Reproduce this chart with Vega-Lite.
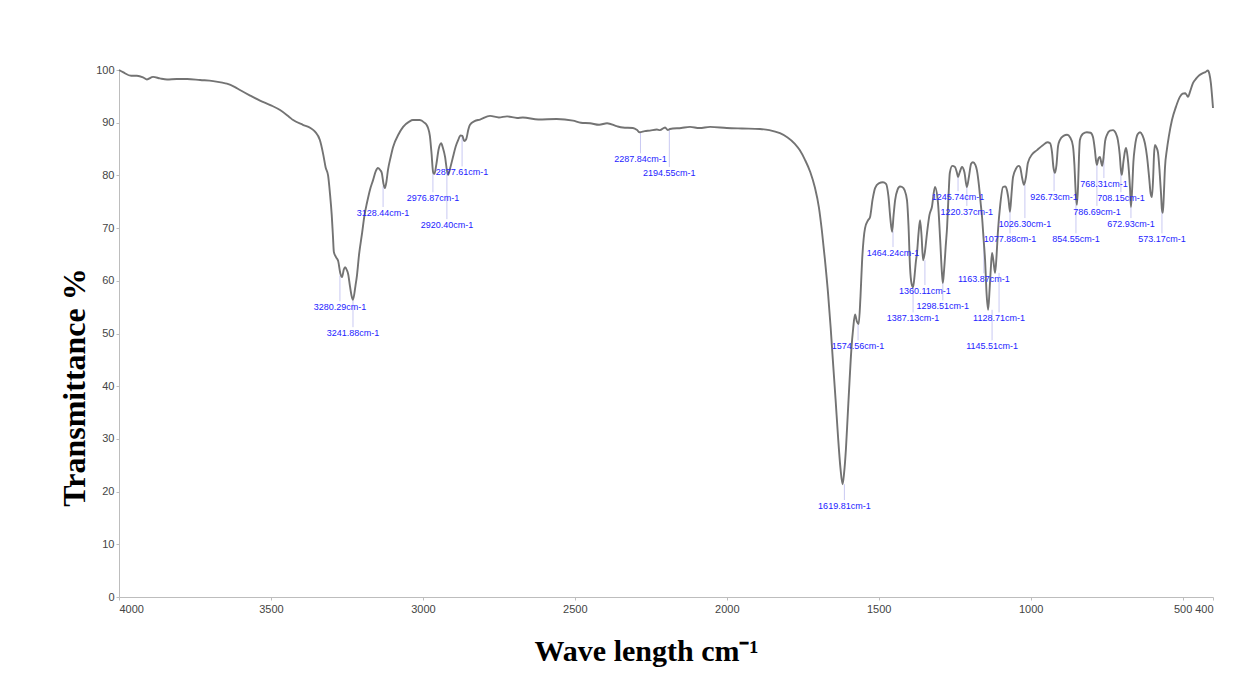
{
  "$schema": "https://vega.github.io/schema/vega-lite/v6.json",
  "width": 1094,
  "height": 527,
  "autosize": {"type": "none"},
  "padding": {"left": 119, "top": 70, "right": 31, "bottom": 80},
  "background": "white",
  "config": {
    "view": {"stroke": null},
    "axis": {
      "grid": false,
      "domainColor": "#bdbdbd",
      "tickColor": "#bdbdbd",
      "tickSize": 3,
      "labelColor": "#444444",
      "labelFont": "Liberation Sans",
      "labelFontSize": 11,
      "titleFont": "Liberation Serif",
      "titleFontWeight": "bold",
      "titleColor": "#000000",
      "titleFontSize": 30
    }
  },
  "datasets": {
    "spectrum": [
      {"wn": 4000, "t": 100}, {"wn": 3987, "t": 99.6}, {"wn": 3960, "t": 98.9}, {"wn": 3941, "t": 98.9},
      {"wn": 3921, "t": 98.6}, {"wn": 3908, "t": 98.2}, {"wn": 3888, "t": 98.7}, {"wn": 3865, "t": 98.4},
      {"wn": 3842, "t": 98.2}, {"wn": 3810, "t": 98.3}, {"wn": 3776, "t": 98.3}, {"wn": 3733, "t": 98.1},
      {"wn": 3690, "t": 97.9}, {"wn": 3660, "t": 97.6}, {"wn": 3645, "t": 97.4}, {"wn": 3620, "t": 96.8},
      {"wn": 3602, "t": 96.2}, {"wn": 3570, "t": 95.2}, {"wn": 3536, "t": 94.2}, {"wn": 3500, "t": 93.3},
      {"wn": 3470, "t": 92.4}, {"wn": 3440, "t": 91.1}, {"wn": 3427, "t": 90.5}, {"wn": 3395, "t": 89.6},
      {"wn": 3370, "t": 89.0}, {"wn": 3355, "t": 88.3}, {"wn": 3339, "t": 86.7}, {"wn": 3328, "t": 84.0},
      {"wn": 3320, "t": 81.5}, {"wn": 3312, "t": 80.0}, {"wn": 3306, "t": 76.7}, {"wn": 3300, "t": 72.5},
      {"wn": 3296, "t": 68.5}, {"wn": 3293, "t": 65.5}, {"wn": 3286, "t": 64.5}, {"wn": 3279, "t": 63.8},
      {"wn": 3272, "t": 61.5}, {"wn": 3266, "t": 60.7}, {"wn": 3260, "t": 62.2}, {"wn": 3256, "t": 62.6},
      {"wn": 3250, "t": 62.0}, {"wn": 3246, "t": 61.3}, {"wn": 3240, "t": 59.0}, {"wn": 3234, "t": 57.0},
      {"wn": 3230, "t": 56.4}, {"wn": 3222, "t": 59.0}, {"wn": 3217, "t": 61.0}, {"wn": 3210, "t": 65.0},
      {"wn": 3200, "t": 69.1}, {"wn": 3192, "t": 72.5}, {"wn": 3184, "t": 74.8}, {"wn": 3174, "t": 77.3},
      {"wn": 3164, "t": 79.1}, {"wn": 3155, "t": 80.8}, {"wn": 3148, "t": 81.4}, {"wn": 3140, "t": 81.0},
      {"wn": 3135, "t": 80.4}, {"wn": 3130, "t": 78.5}, {"wn": 3125, "t": 77.6}, {"wn": 3120, "t": 78.8},
      {"wn": 3115, "t": 81.0}, {"wn": 3106, "t": 83.5}, {"wn": 3098, "t": 85.4}, {"wn": 3080, "t": 87.8},
      {"wn": 3065, "t": 89.2}, {"wn": 3045, "t": 90.2}, {"wn": 3033, "t": 90.5}, {"wn": 3010, "t": 90.5},
      {"wn": 2995, "t": 90.0}, {"wn": 2988, "t": 89.6}, {"wn": 2983, "t": 89.0}, {"wn": 2977, "t": 87.5},
      {"wn": 2972, "t": 84.5}, {"wn": 2966, "t": 80.5}, {"wn": 2962, "t": 80.3}, {"wn": 2956, "t": 82.0},
      {"wn": 2948, "t": 85.0}, {"wn": 2940, "t": 86.1}, {"wn": 2934, "t": 85.2}, {"wn": 2927, "t": 83.5},
      {"wn": 2921, "t": 81.0}, {"wn": 2917, "t": 80.1}, {"wn": 2911, "t": 81.2}, {"wn": 2901, "t": 83.5},
      {"wn": 2892, "t": 85.5}, {"wn": 2884, "t": 86.7}, {"wn": 2876, "t": 87.6}, {"wn": 2870, "t": 87.5},
      {"wn": 2864, "t": 86.5}, {"wn": 2858, "t": 86.8}, {"wn": 2850, "t": 88.8}, {"wn": 2845, "t": 89.6},
      {"wn": 2830, "t": 90.3}, {"wn": 2812, "t": 90.6}, {"wn": 2779, "t": 91.3}, {"wn": 2750, "t": 91.0},
      {"wn": 2723, "t": 91.2}, {"wn": 2690, "t": 90.9}, {"wn": 2671, "t": 91.0}, {"wn": 2620, "t": 90.6},
      {"wn": 2560, "t": 90.7}, {"wn": 2506, "t": 90.4}, {"wn": 2480, "t": 90.0}, {"wn": 2450, "t": 89.9},
      {"wn": 2420, "t": 89.6}, {"wn": 2394, "t": 89.9}, {"wn": 2360, "t": 89.3}, {"wn": 2342, "t": 89.1},
      {"wn": 2309, "t": 89.0}, {"wn": 2295, "t": 88.6}, {"wn": 2287, "t": 88.2}, {"wn": 2270, "t": 88.4},
      {"wn": 2253, "t": 88.5}, {"wn": 2230, "t": 88.7}, {"wn": 2220, "t": 88.6}, {"wn": 2203, "t": 89.1},
      {"wn": 2194, "t": 88.6}, {"wn": 2187, "t": 88.8}, {"wn": 2150, "t": 89.0}, {"wn": 2121, "t": 89.2},
      {"wn": 2090, "t": 89.0}, {"wn": 2055, "t": 89.2}, {"wn": 2000, "t": 89.0}, {"wn": 1950, "t": 88.9},
      {"wn": 1891, "t": 88.8}, {"wn": 1860, "t": 88.6}, {"wn": 1825, "t": 88.0}, {"wn": 1800, "t": 87.2},
      {"wn": 1776, "t": 86.0}, {"wn": 1760, "t": 84.8}, {"wn": 1743, "t": 83.0}, {"wn": 1725, "t": 80.6},
      {"wn": 1710, "t": 77.7}, {"wn": 1697, "t": 74.0}, {"wn": 1687, "t": 69.5}, {"wn": 1677, "t": 64.0},
      {"wn": 1667, "t": 57.8}, {"wn": 1658, "t": 51.0}, {"wn": 1651, "t": 45.0}, {"wn": 1642, "t": 37.5},
      {"wn": 1634, "t": 30.5}, {"wn": 1626, "t": 24.5}, {"wn": 1619, "t": 21.4}, {"wn": 1614, "t": 23.5},
      {"wn": 1608, "t": 28.0}, {"wn": 1602, "t": 34.5}, {"wn": 1596, "t": 41.0}, {"wn": 1590, "t": 47.0},
      {"wn": 1584, "t": 51.0}, {"wn": 1578, "t": 53.6}, {"wn": 1572, "t": 52.3}, {"wn": 1566, "t": 51.8},
      {"wn": 1560, "t": 57.0}, {"wn": 1555, "t": 63.5}, {"wn": 1545, "t": 70.0}, {"wn": 1535, "t": 71.5},
      {"wn": 1529, "t": 72.0}, {"wn": 1520, "t": 75.5}, {"wn": 1512, "t": 77.6}, {"wn": 1500, "t": 78.5},
      {"wn": 1486, "t": 78.7}, {"wn": 1476, "t": 78.4}, {"wn": 1468, "t": 76.0}, {"wn": 1462, "t": 72.0},
      {"wn": 1456, "t": 69.3}, {"wn": 1451, "t": 72.5}, {"wn": 1446, "t": 75.3}, {"wn": 1438, "t": 77.3},
      {"wn": 1430, "t": 77.9}, {"wn": 1423, "t": 77.8}, {"wn": 1415, "t": 77.2}, {"wn": 1407, "t": 75.3},
      {"wn": 1402, "t": 70.5}, {"wn": 1397, "t": 62.6}, {"wn": 1392, "t": 59.5}, {"wn": 1387, "t": 58.8},
      {"wn": 1382, "t": 61.0}, {"wn": 1378, "t": 63.5}, {"wn": 1374, "t": 65.3}, {"wn": 1369, "t": 69.0},
      {"wn": 1364, "t": 71.5}, {"wn": 1359, "t": 68.5}, {"wn": 1354, "t": 63.9}, {"wn": 1348, "t": 65.5},
      {"wn": 1341, "t": 69.1}, {"wn": 1333, "t": 72.5}, {"wn": 1325, "t": 74.0}, {"wn": 1315, "t": 77.8},
      {"wn": 1305, "t": 74.8}, {"wn": 1298, "t": 68.0}, {"wn": 1292, "t": 61.5}, {"wn": 1289, "t": 59.6},
      {"wn": 1285, "t": 62.0}, {"wn": 1279, "t": 67.0}, {"wn": 1275, "t": 70.2}, {"wn": 1270, "t": 76.5},
      {"wn": 1266, "t": 80.5}, {"wn": 1258, "t": 81.8}, {"wn": 1249, "t": 81.6}, {"wn": 1243, "t": 80.6},
      {"wn": 1239, "t": 79.7}, {"wn": 1234, "t": 80.5}, {"wn": 1226, "t": 81.6}, {"wn": 1218, "t": 80.6},
      {"wn": 1210, "t": 77.8}, {"wn": 1203, "t": 79.8}, {"wn": 1196, "t": 82.2}, {"wn": 1190, "t": 82.5},
      {"wn": 1182, "t": 82.0}, {"wn": 1177, "t": 81.0}, {"wn": 1170, "t": 78.0}, {"wn": 1165, "t": 75.0},
      {"wn": 1160, "t": 72.1}, {"wn": 1155, "t": 68.0}, {"wn": 1150, "t": 63.9}, {"wn": 1145, "t": 57.5},
      {"wn": 1140, "t": 54.5}, {"wn": 1135, "t": 58.5}, {"wn": 1131, "t": 62.5}, {"wn": 1127, "t": 65.3},
      {"wn": 1122, "t": 63.5}, {"wn": 1117, "t": 61.5}, {"wn": 1112, "t": 65.0}, {"wn": 1108, "t": 69.1},
      {"wn": 1100, "t": 74.5}, {"wn": 1091, "t": 77.8}, {"wn": 1084, "t": 77.9}, {"wn": 1078, "t": 77.2},
      {"wn": 1073, "t": 75.5}, {"wn": 1068, "t": 73.1}, {"wn": 1063, "t": 76.5}, {"wn": 1058, "t": 79.7},
      {"wn": 1048, "t": 81.3}, {"wn": 1040, "t": 81.8}, {"wn": 1035, "t": 81.6}, {"wn": 1028, "t": 79.5},
      {"wn": 1022, "t": 78.2}, {"wn": 1016, "t": 79.5}, {"wn": 1009, "t": 82.4}, {"wn": 995, "t": 84.0},
      {"wn": 979, "t": 84.8}, {"wn": 960, "t": 85.7}, {"wn": 945, "t": 86.3}, {"wn": 936, "t": 86.1},
      {"wn": 930, "t": 84.5}, {"wn": 925, "t": 81.5}, {"wn": 920, "t": 80.5}, {"wn": 915, "t": 82.0},
      {"wn": 910, "t": 85.5}, {"wn": 904, "t": 86.7}, {"wn": 892, "t": 87.5}, {"wn": 880, "t": 87.7},
      {"wn": 870, "t": 87.2}, {"wn": 861, "t": 85.6}, {"wn": 856, "t": 82.0}, {"wn": 852, "t": 77.0},
      {"wn": 848, "t": 74.4}, {"wn": 844, "t": 78.0}, {"wn": 841, "t": 83.5}, {"wn": 838, "t": 86.7},
      {"wn": 828, "t": 87.9}, {"wn": 815, "t": 88.2}, {"wn": 803, "t": 88.1}, {"wn": 795, "t": 87.3},
      {"wn": 789, "t": 85.0}, {"wn": 785, "t": 82.8}, {"wn": 782, "t": 82.0}, {"wn": 777, "t": 83.2},
      {"wn": 772, "t": 83.5}, {"wn": 768, "t": 82.5}, {"wn": 765, "t": 81.8}, {"wn": 760, "t": 83.5},
      {"wn": 755, "t": 86.5}, {"wn": 749, "t": 87.7}, {"wn": 739, "t": 88.5}, {"wn": 729, "t": 88.6},
      {"wn": 720, "t": 88.0}, {"wn": 713, "t": 86.7}, {"wn": 707, "t": 84.0}, {"wn": 703, "t": 81.0},
      {"wn": 700, "t": 80.1}, {"wn": 695, "t": 82.5}, {"wn": 690, "t": 84.5}, {"wn": 686, "t": 85.2},
      {"wn": 681, "t": 83.5}, {"wn": 677, "t": 81.0}, {"wn": 673, "t": 77.5}, {"wn": 670, "t": 74.0},
      {"wn": 666, "t": 77.5}, {"wn": 662, "t": 82.5}, {"wn": 657, "t": 85.4}, {"wn": 648, "t": 87.8},
      {"wn": 640, "t": 88.2}, {"wn": 632, "t": 87.6}, {"wn": 624, "t": 86.1}, {"wn": 617, "t": 83.5},
      {"wn": 610, "t": 79.5}, {"wn": 605, "t": 76.5}, {"wn": 601, "t": 75.9}, {"wn": 597, "t": 79.5},
      {"wn": 594, "t": 84.0}, {"wn": 591, "t": 85.8}, {"wn": 586, "t": 85.3}, {"wn": 581, "t": 84.3},
      {"wn": 576, "t": 81.0}, {"wn": 571, "t": 76.5}, {"wn": 568, "t": 73.5}, {"wn": 565, "t": 72.9},
      {"wn": 562, "t": 76.0}, {"wn": 558, "t": 81.5}, {"wn": 552, "t": 84.8}, {"wn": 545, "t": 87.5},
      {"wn": 535, "t": 90.5}, {"wn": 522, "t": 93.0}, {"wn": 509, "t": 94.9}, {"wn": 500, "t": 95.5},
      {"wn": 492, "t": 95.6}, {"wn": 487, "t": 95.3}, {"wn": 482, "t": 94.9}, {"wn": 476, "t": 95.8},
      {"wn": 466, "t": 97.5}, {"wn": 455, "t": 98.4}, {"wn": 445, "t": 99.0}, {"wn": 433, "t": 99.4},
      {"wn": 425, "t": 99.6}, {"wn": 417, "t": 99.9}, {"wn": 412, "t": 99.3}, {"wn": 407, "t": 97.5},
      {"wn": 403, "t": 95.0}, {"wn": 400, "t": 92.8}
    ],
    "peaks": [
      {"label": "3280.29cm-1", "wn": 3273, "t": 55.0, "top": 61.0, "bottom": 56.1},
      {"label": "3241.88cm-1", "wn": 3230, "t": 50.1, "top": 56.4, "bottom": 51.2},
      {"label": "3128.44cm-1", "wn": 3131, "t": 72.9, "top": 78.0, "bottom": 74.0},
      {"label": "2976.87cm-1", "wn": 2967, "t": 75.7, "top": 80.4, "bottom": 76.8},
      {"label": "2877.61cm-1", "wn": 2871, "t": 80.6, "top": 87.5, "bottom": 81.7},
      {"label": "2920.40cm-1", "wn": 2921, "t": 70.6, "top": 81.0, "bottom": 71.7},
      {"label": "2287.84cm-1", "wn": 2284, "t": 83.1, "top": 88.2, "bottom": 84.2},
      {"label": "2194.55cm-1", "wn": 2189, "t": 80.5, "top": 88.8, "bottom": 81.6},
      {"label": "1619.81cm-1", "wn": 1613, "t": 17.3, "top": 21.4, "bottom": 18.4},
      {"label": "1574.56cm-1", "wn": 1568, "t": 47.6, "top": 52.0, "bottom": 48.7},
      {"label": "1464.24cm-1", "wn": 1453, "t": 65.3, "top": 69.5, "bottom": 66.4},
      {"label": "1360.11cm-1", "wn": 1348, "t": 58.1, "top": 63.9, "bottom": 59.2},
      {"label": "1298.51cm-1", "wn": 1289, "t": 55.2, "top": 59.6, "bottom": 56.3},
      {"label": "1387.13cm-1", "wn": 1387, "t": 52.9, "top": 58.8, "bottom": 54.0},
      {"label": "1245.74cm-1", "wn": 1239, "t": 75.9, "top": 79.7, "bottom": 77.0},
      {"label": "1220.37cm-1", "wn": 1210, "t": 73.1, "top": 77.8, "bottom": 74.2},
      {"label": "1163.87cm-1", "wn": 1154, "t": 60.3, "top": 67.0, "bottom": 61.4},
      {"label": "1128.71cm-1", "wn": 1104, "t": 52.9, "top": 61.5, "bottom": 54.0},
      {"label": "1145.51cm-1", "wn": 1127, "t": 47.6, "top": 54.5, "bottom": 48.7},
      {"label": "1077.88cm-1", "wn": 1068, "t": 67.9, "top": 73.1, "bottom": 69.0},
      {"label": "1026.30cm-1", "wn": 1019, "t": 70.8, "top": 78.2, "bottom": 71.9},
      {"label": "926.73cm-1", "wn": 923, "t": 75.9, "top": 80.8, "bottom": 77.0},
      {"label": "854.55cm-1", "wn": 851, "t": 67.9, "top": 75.5, "bottom": 69.0},
      {"label": "768.31cm-1", "wn": 759, "t": 78.4, "top": 83.5, "bottom": 79.5},
      {"label": "786.69cm-1", "wn": 782, "t": 73.1, "top": 82.0, "bottom": 74.2},
      {"label": "708.15cm-1", "wn": 703, "t": 75.7, "top": 81.0, "bottom": 76.8},
      {"label": "672.93cm-1", "wn": 670, "t": 70.8, "top": 74.0, "bottom": 71.9},
      {"label": "573.17cm-1", "wn": 568, "t": 67.9, "top": 73.5, "bottom": 69.0}
    ]
  },
  "layer": [
    {
      "data": {"name": "peaks"},
      "mark": {"type": "rule", "color": "#c9c9f2", "strokeWidth": 1},
      "encoding": {
        "x": {"field": "wn", "type": "quantitative"},
        "y": {"field": "top", "type": "quantitative"},
        "y2": {"field": "bottom"}
      }
    },
    {
      "data": {"name": "spectrum"},
      "mark": {"type": "line", "color": "#737373", "strokeWidth": 1.9, "interpolate": "monotone"},
      "encoding": {
        "x": {
          "field": "wn",
          "type": "quantitative",
          "scale": {"domain": [4000, 400], "nice": false, "zero": false},
          "axis": {
            "values": [4000, 3500, 3000, 2500, 2000, 1500, 1000, 500, 400],
            "format": "d",
            "labelPadding": 3,
            "title": "Wave length cm⁻¹",
            "titleX": 527,
            "titleY": 63,
            "titleAlign": "center",
            "titleBaseline": "alphabetic",
            "titleAnchor": null
          }
        },
        "y": {
          "field": "t",
          "type": "quantitative",
          "scale": {"domain": [0, 100], "nice": false},
          "axis": {
            "values": [0, 10, 20, 30, 40, 50, 60, 70, 80, 90, 100],
            "format": "d",
            "labelPadding": 2,
            "title": "Transmittance %",
            "titleFontSize": 32,
            "titleX": -45,
            "titleY": 317,
            "titleAngle": -90,
            "titleAlign": "center",
            "titleBaseline": "middle",
            "titleAnchor": null
          }
        }
      }
    },
    {
      "data": {"name": "peaks"},
      "mark": {"type": "text", "color": "#2323ff", "font": "Liberation Sans", "fontSize": 9, "align": "center", "baseline": "middle"},
      "encoding": {
        "x": {"field": "wn", "type": "quantitative"},
        "y": {"field": "t", "type": "quantitative"},
        "text": {"field": "label"}
      }
    }
  ]
}
